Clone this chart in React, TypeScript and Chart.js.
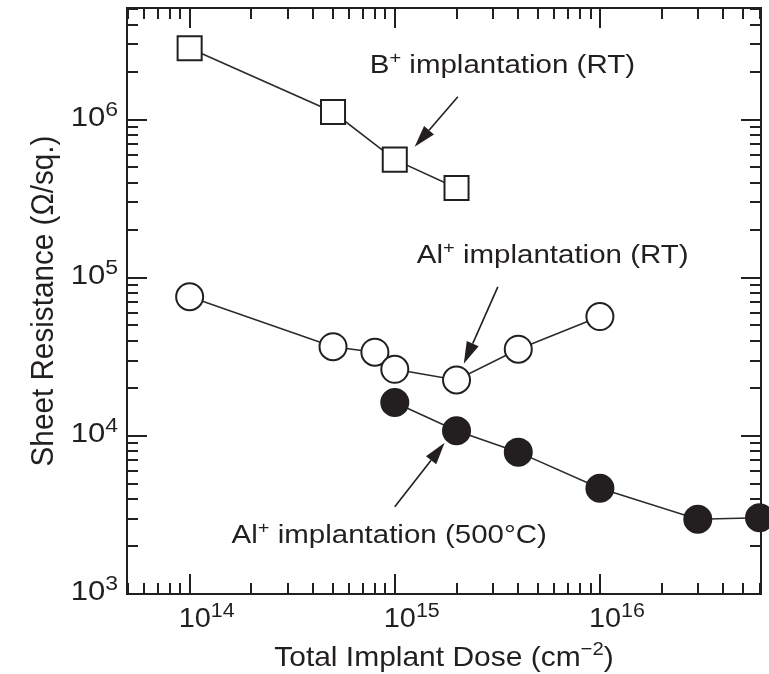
import { useEffect, useRef } from "react";
import { Chart, registerables } from "chart.js";

Chart.register(...registerables);

// ---- data ----
const doseB = [1e14, 5e14, 1e15, 2e15];
const rsB = [2.84e6, 1.12e6, 5.6e5, 3.7e5];

const doseAlRT = [1e14, 5e14, 8e14, 1e15, 2e15, 4e15, 1e16];
const rsAlRT = [7.6e4, 3.67e4, 3.39e4, 2.64e4, 2.26e4, 3.54e4, 5.69e4];

const doseAl500 = [1e15, 2e15, 4e15, 1e16, 3e16, 6e16];
const rsAl500 = [1.63e4, 1.08e4, 7.9e3, 4.67e3, 2.97e3, 3.04e3];

// axes
const xMin = 4.95e13;
const xMax = 6.1e16;
const yMin = 1e3;
const yMax = 5.1e6;
const xMajorTicks = [1e14, 1e15, 1e16];
const xTickExponents = ["14", "15", "16"];
const yMajorTicks = [1e3, 1e4, 1e5, 1e6];
const yTickExponents = ["3", "4", "5", "6"];

const xTitle = ["Total Implant Dose (cm", "\u22122", ")"];
const yTitle = "Sheet Resistance (\u03A9/sq.)";

// annotations (data coordinates)
const annBase = ["B", "Al", "Al"];
const annSup = ["+", "+", "+"];
const annRest = [" implantation (RT)", " implantation (RT)", " implantation (500\u00B0C)"];
const annX = [7.55e14, 1.28e15, 1.6e14];
const annY = [1.98e6, 1.245e5, 2.1e3];

const arrowFromX = [2.03e15, 3.18e15, 1.0e15];
const arrowFromY = [1.4e6, 8.77e4, 3.56e3];
const arrowToX = [1.25e15, 2.17e15, 1.75e15];
const arrowToY = [6.75e5, 2.86e4, 9.04e3];

const INK = "#231f20";
const FONT = '"Liberation Sans", Arial, Helvetica, sans-serif';

type Part = { t: string; sup?: boolean };

function drawRich(
  ctx: CanvasRenderingContext2D,
  parts: Part[],
  x: number,
  y: number,
  opts: { size: number; supSize: number; rise: number; align: "left" | "center" | "right"; rot?: number; sx?: number; sy?: number }
) {
  ctx.save();
  ctx.translate(x, y);
  if (opts.rot) ctx.rotate(opts.rot);
  ctx.scale(opts.sx ?? 1, opts.sy ?? 1);
  ctx.textAlign = "left";
  ctx.textBaseline = "alphabetic";
  ctx.fillStyle = INK;
  let w = 0;
  const widths: number[] = [];
  for (const p of parts) {
    ctx.font = `${p.sup ? opts.supSize : opts.size}px ${FONT}`;
    const pw = ctx.measureText(p.t).width;
    widths.push(pw);
    w += pw;
  }
  let cx = opts.align === "left" ? 0 : opts.align === "center" ? -w / 2 : -w;
  parts.forEach((p, i) => {
    ctx.font = `${p.sup ? opts.supSize : opts.size}px ${FONT}`;
    ctx.fillText(p.t, cx, p.sup ? -opts.rise : 0);
    cx += widths[i];
  });
  ctx.restore();
}

function logTicks(min: number, max: number) {
  const out: { v: number; major: boolean }[] = [];
  for (let k = Math.floor(Math.log10(min)); k <= Math.ceil(Math.log10(max)); k++) {
    for (let m = 1; m <= 9; m++) {
      const v = m * Math.pow(10, k);
      if (v >= min * 0.999 && v <= max * 1.001) out.push({ v, major: m === 1 });
    }
  }
  return out;
}

const framePlugin = {
  id: "frame",
  beforeDatasetsDraw(chart: any) {
    const ctx: CanvasRenderingContext2D = chart.ctx;
    const { left, right, top, bottom } = chart.chartArea;
    const xs = chart.scales.x;
    const ys = chart.scales.y;
    ctx.save();
    ctx.strokeStyle = INK;
    ctx.lineWidth = 2;
    ctx.strokeRect(left, top, right - left, bottom - top);
    const majLen = 20;
    const minLen = 11;
    ctx.beginPath();
    for (const t of logTicks(xMin, xMax)) {
      const px = Math.round(xs.getPixelForValue(t.v));
      const len = t.major ? majLen : minLen;
      ctx.moveTo(px, bottom);
      ctx.lineTo(px, bottom - len);
      ctx.moveTo(px, top);
      ctx.lineTo(px, top + len);
    }
    for (const t of logTicks(yMin, yMax)) {
      const py = Math.round(ys.getPixelForValue(t.v));
      const len = t.major ? majLen : minLen;
      ctx.moveTo(left, py);
      ctx.lineTo(left + len, py);
      ctx.moveTo(right, py);
      ctx.lineTo(right - len, py);
    }
    ctx.stroke();
    ctx.restore();

    // tick labels
    xMajorTicks.forEach((v, i) => {
      const px = xs.getPixelForValue(v);
      drawRich(ctx, [{ t: "10" }, { t: xTickExponents[i], sup: true }], px - 11, bottom + 33, {
        size: 27, supSize: 20, rise: 10, align: "left", sx: 1.07,
      });
    });
    yMajorTicks.forEach((v, i) => {
      const py = ys.getPixelForValue(v);
      drawRich(ctx, [{ t: "10" }, { t: yTickExponents[i], sup: true }], left - 9, py + 6, {
        size: 27, supSize: 20, rise: 10, align: "right", sx: 1.15,
      });
    });

    // axis titles
    drawRich(ctx, [{ t: xTitle[0] }, { t: xTitle[1], sup: true }, { t: xTitle[2] }], (left + right) / 2, bottom + 72, {
      size: 28, supSize: 19, rise: 11, align: "center", sx: 1.07,
    });
    drawRich(ctx, [{ t: yTitle }], 53, (top + bottom) / 2, {
      size: 27, supSize: 18, rise: 10, align: "center", rot: -Math.PI / 2, sx: 1.1, sy: 1.15,
    });
  },
  afterDatasetsDraw(chart: any) {
    const ctx: CanvasRenderingContext2D = chart.ctx;
    const xs = chart.scales.x;
    const ys = chart.scales.y;
    // annotation labels
    annBase.forEach((b, i) => {
      drawRich(
        ctx,
        [{ t: b }, { t: annSup[i], sup: true }, { t: annRest[i] }],
        xs.getPixelForValue(annX[i]),
        ys.getPixelForValue(annY[i]),
        { size: 25, supSize: 17, rise: 10, align: "left", sx: 1.18 }
      );
    });
    // arrows
    ctx.save();
    ctx.strokeStyle = INK;
    ctx.fillStyle = INK;
    ctx.lineWidth = 1.6;
    arrowFromX.forEach((fx, i) => {
      const x0 = xs.getPixelForValue(fx);
      const y0 = ys.getPixelForValue(arrowFromY[i]);
      const x1 = xs.getPixelForValue(arrowToX[i]);
      const y1 = ys.getPixelForValue(arrowToY[i]);
      const ang = Math.atan2(y1 - y0, x1 - x0);
      const headLen = 22;
      const headHalf = 6.5;
      const bx = x1 - headLen * Math.cos(ang);
      const by = y1 - headLen * Math.sin(ang);
      ctx.beginPath();
      ctx.moveTo(x0, y0);
      ctx.lineTo(bx, by);
      ctx.stroke();
      ctx.beginPath();
      ctx.moveTo(x1, y1);
      ctx.lineTo(bx + headHalf * Math.sin(ang), by - headHalf * Math.cos(ang));
      ctx.lineTo(bx - headHalf * Math.sin(ang), by + headHalf * Math.cos(ang));
      ctx.closePath();
      ctx.fill();
    });
    ctx.restore();
  },
};

function toPoints(xs: number[], ys: number[]) {
  return xs.map((x, i) => ({ x, y: ys[i] }));
}

export default function App() {
  const ref = useRef<HTMLCanvasElement | null>(null);
  useEffect(() => {
    if (!ref.current) return;
    const common = {
      borderColor: "#2b2b2b",
      borderWidth: 1.6,
      pointBorderColor: INK,
      pointBorderWidth: 2,
      fill: false,
      tension: 0,
      clip: false as any,
    };
    const chart = new Chart(ref.current, {
      type: "line",
      data: {
        datasets: [
          {
            ...common,
            label: "B+ implantation (RT)",
            data: toPoints(doseB, rsB),
            pointStyle: "rect",
            pointRadius: 17,
            pointBackgroundColor: "#ffffff",
          },
          {
            ...common,
            label: "Al+ implantation (RT)",
            data: toPoints(doseAlRT, rsAlRT),
            pointStyle: "circle",
            pointRadius: 13.5,
            pointBackgroundColor: "#ffffff",
          },
          {
            ...common,
            label: "Al+ implantation (500°C)",
            data: toPoints(doseAl500, rsAl500),
            pointStyle: "circle",
            pointRadius: 13.5,
            pointBackgroundColor: INK,
          },
        ],
      } as any,
      options: {
        responsive: false,
        animation: false,
        devicePixelRatio: 1,
        events: [],
        layout: { autoPadding: false, padding: { left: 127, top: 8, right: 8, bottom: 80 } },
        plugins: { legend: { display: false }, tooltip: { enabled: false } },
        scales: {
          x: { type: "logarithmic", min: xMin, max: xMax, display: false },
          y: { type: "logarithmic", min: yMin, max: yMax, display: false },
        },
      } as any,
      plugins: [framePlugin],
    });
    return () => chart.destroy();
  }, []);
  return (
    <div style={{ position: "absolute", left: 0, top: 0, width: 769, height: 674, background: "#fff" }}>
      <canvas ref={ref} width={769} height={674} style={{ display: "block", width: 769, height: 674 }} />
    </div>
  );
}
